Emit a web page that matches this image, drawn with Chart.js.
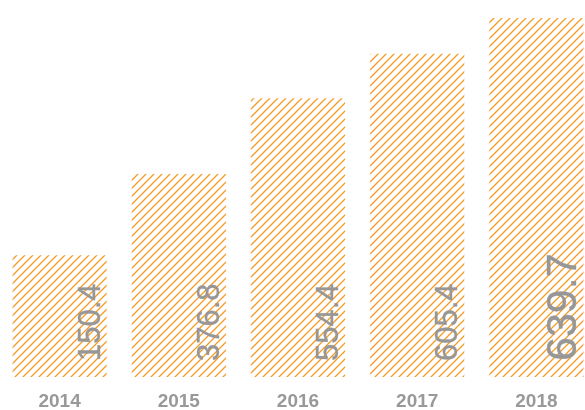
<!DOCTYPE html>
<html>
<head>
<meta charset="utf-8">
<script src="https://cdn.jsdelivr.net/npm/chart.js@4"></script>
<style>
  html, body { margin: 0; padding: 0; overflow: hidden; background: #fff; }
  .wrap { width: 596px; height: 410px; }
</style>
</head>
<body>
<div class="wrap"><canvas id="bars"></canvas></div>
<script>
const years = ['2014', '2015', '2016', '2017', '2018'];
// bar heights as drawn (same units as the y scale)
const barValues = [217, 362, 497, 576, 640];
// numbers printed inside the bars
const valueLabels = ['150.4', '376.8', '554.4', '605.4', '639.7'];

const ctx = document.getElementById('bars').getContext('2d');

// diagonal hatch fill
function hatch(color) {
    const tile = document.createElement('canvas');
    tile.width = 8;
    tile.height = 8;
    const t = tile.getContext('2d');
    t.strokeStyle = color;
    t.lineWidth = 1.25;
    t.beginPath();
    t.moveTo(0, 8); t.lineTo(8, 0);
    t.moveTo(-1, 1); t.lineTo(1, -1);
    t.moveTo(7, 9); t.lineTo(9, 7);
    t.stroke();
    return ctx.createPattern(tile, 'repeat');
}

const insideLabels = {
    id: 'insideLabels',
    afterDatasetsDraw(chart) {
        const c = chart.ctx;
        const meta = chart.getDatasetMeta(0);
        meta.data.forEach((bar, i) => {
            const big = i === valueLabels.length - 1;
            const size = big ? 43 : 31;
            const right = bar.x + bar.width / 2;
            c.save();
            c.translate(right - 7, bar.base - 16);
            c.rotate(-Math.PI / 2);
            c.font = size + 'px "Liberation Sans", Arial, sans-serif';
            c.fillStyle = '#979797';
            c.strokeStyle = '#979797';
            c.lineWidth = 0.4;
            c.textAlign = 'left';
            c.textBaseline = 'alphabetic';
            c.fillText(valueLabels[i], 0, 0);
            c.strokeText(valueLabels[i], 0, 0);
            c.restore();
        });
    }
};

const chart = new Chart(ctx, {
    type: 'bar',
    data: {
        labels: years,
        datasets: [
            {
                data: barValues,
                backgroundColor: hatch('#f59a22'),
                borderWidth: 0,
                barPercentage: 0.79,
                categoryPercentage: 1
            }
        ]
    },
    options: {
        responsive: true,
        maintainAspectRatio: false,
        animation: false,
        layout: { padding: 0 },
        plugins: {
            legend: { display: false },
            tooltip: { enabled: false }
        },
        scales: {
            x: {
                grid: { display: false, drawTicks: false },
                border: { display: false },
                afterFit: (axis) => { axis.height = 33; },
                ticks: {
                    padding: 13,
                    color: '#999999',
                    font: { family: '"Liberation Sans", Arial, sans-serif', size: 19, weight: 'bold' }
                }
            },
            y: {
                display: false,
                min: 0,
                max: 672
            }
        }
    },
    plugins: [insideLabels]
});
</script>
</body>
</html>
